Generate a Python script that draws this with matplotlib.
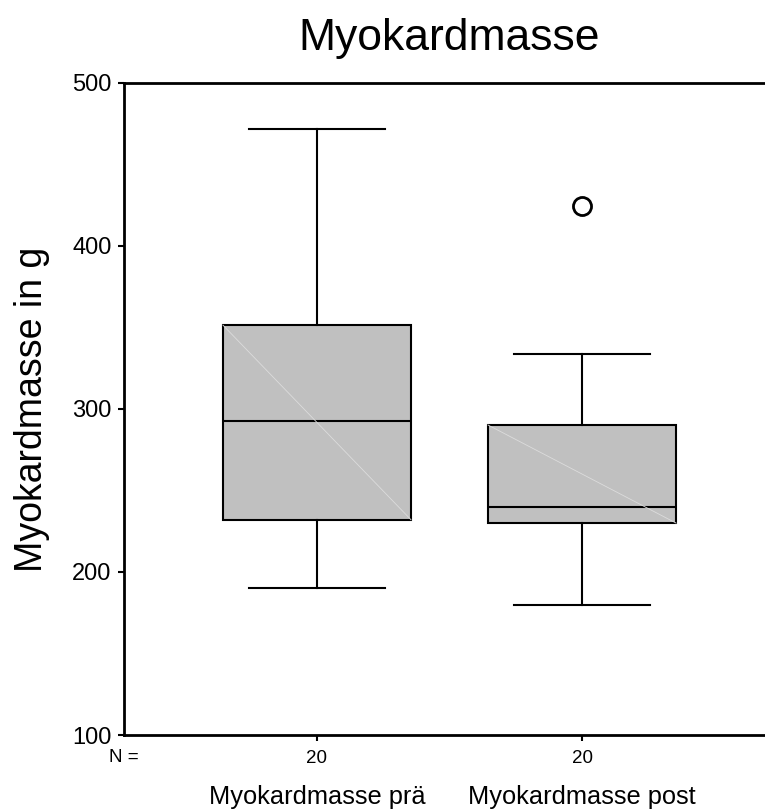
import matplotlib.pyplot as plt

plt.rcParams['font.family'] = ['Liberation Sans', 'DejaVu Sans']

# Box statistics per variable (g)
labels = ['Myokardmasse prä', 'Myokardmasse post']
n_cases = [20, 20]
q1 = [232, 230]
median = [292.5, 239.7]
q3 = [351.5, 290.2]
whisker_low = [190, 179.5]
whisker_high = [472, 333.7]
outliers = [[], [424.7]]


def main():
    fig = plt.figure(figsize=(7.65, 8.11), dpi=100)
    ax = fig.add_axes([124 / 765, 76 / 811, 651 / 765, 652 / 811])

    stats = []
    for i in range(len(labels)):
        stats.append({'q1': q1[i], 'med': median[i], 'q3': q3[i],
                      'whislo': whisker_low[i], 'whishi': whisker_high[i],
                      'fliers': outliers[i], 'label': str(n_cases[i])})

    bp = ax.bxp(stats, positions=[1, 2], widths=0.71, capwidths=0.51,
                patch_artist=True, showfliers=True,
                boxprops=dict(facecolor='#c0c0c0', edgecolor='black', linewidth=1.5),
                medianprops=dict(color='black', linewidth=1.5),
                whiskerprops=dict(color='black', linewidth=1.5),
                capprops=dict(color='black', linewidth=1.5),
                flierprops=dict(marker='o', markersize=13, markerfacecolor='white',
                                markeredgecolor='black', markeredgewidth=2))

    # faint diagonal across each box
    for box in bp['boxes']:
        verts = box.get_path().vertices
        xs, ys = verts[:, 0], verts[:, 1]
        ax.plot([xs.min(), xs.max()], [ys.max(), ys.min()], color='#dcdcdc',
                linewidth=0.6, zorder=2.5)

    ax.set_xlim(0.272, 2.728)
    ax.set_ylim(100, 500)
    ax.set_yticks([100, 200, 300, 400, 500])
    ax.tick_params(axis='y', labelsize=17, length=4, width=1.5, direction='out', pad=5)
    ax.tick_params(axis='x', labelsize=13.5, length=4, width=1.5, direction='out', pad=7)

    for spine in ax.spines.values():
        spine.set_linewidth(2)

    ax.set_title('Myokardmasse', fontsize=32, pad=24)
    ax.set_ylabel('Myokardmasse in g', fontsize=27, labelpad=16)

    trans = ax.get_xaxis_transform()
    for pos, name in zip([1, 2], labels):
        ax.text(pos, -0.095, name, transform=trans, ha='center', va='center',
                fontsize=18.3)
    fig.text(109 / 765, 1 - 757 / 811, 'N =', ha='left', va='center', fontsize=13.5)

    fig.savefig('out.png', dpi=100)


if __name__ == '__main__':
    main()
